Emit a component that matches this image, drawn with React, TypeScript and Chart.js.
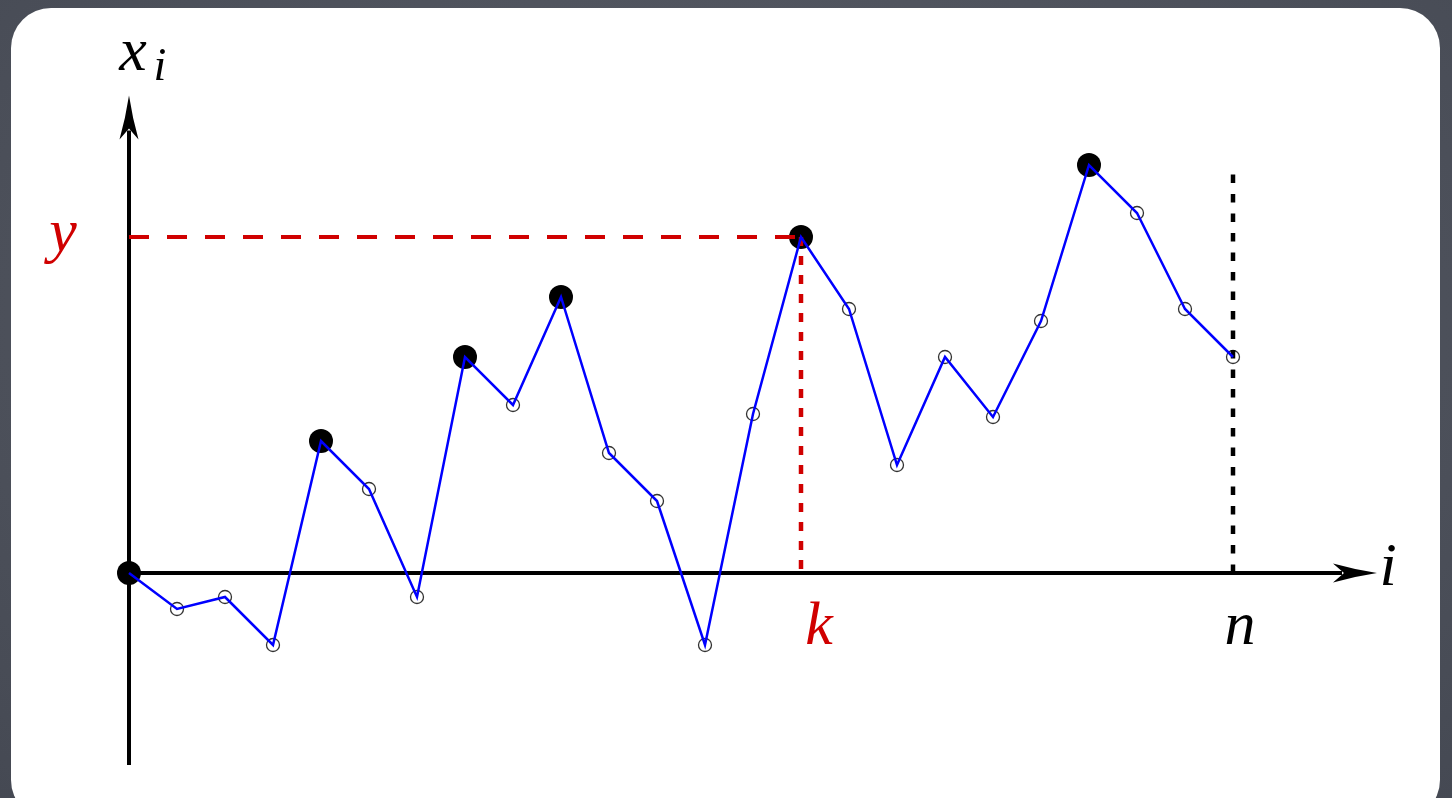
import React, { useEffect, useRef } from "react";
import { Chart, registerables } from "chart.js";

Chart.register(...registerables);

// ---- data ----
const steps = [0, 1, 2, 3, 4, 5, 6, 7, 8, 9, 10, 11, 12, 13, 14, 15, 16, 17, 18, 19, 20, 21, 22, 23];
const walkValues = [0, -3, -2, -6, 11, 7, -2, 18, 14, 23, 10, 6, -6, 13.25, 28, 22, 9, 18, 13, 21, 34, 30, 22, 18];
const kIndex = 14;
const nIndex = 23;
const yLevel = 28;
const nLineTop = 33.2;
const xAxisEnd = 26;
const yAxisBottom = -16;
const yAxisTop = 39.8;
const xRange = [-2.6875, 27.5625];
const yRange = [-18.75, 47.75];

const FONT = "italic 62px 'Liberation Serif', 'DejaVu Serif', serif";
const SUB_FONT = "italic 46px 'Liberation Serif', 'DejaVu Serif', serif";

function stealth(ctx: CanvasRenderingContext2D, tipX: number, tipY: number, dirX: number, dirY: number) {
  const len = 44;
  const half = 9.5;
  const notch = 33;
  const px = -dirY;
  const py = dirX;
  ctx.beginPath();
  ctx.moveTo(tipX, tipY);
  ctx.quadraticCurveTo(
    tipX - dirX * len * 0.5 + px * half * 0.35,
    tipY - dirY * len * 0.5 + py * half * 0.35,
    tipX - dirX * len + px * half,
    tipY - dirY * len + py * half
  );
  ctx.lineTo(tipX - dirX * notch, tipY - dirY * notch);
  ctx.lineTo(tipX - dirX * len - px * half, tipY - dirY * len - py * half);
  ctx.quadraticCurveTo(
    tipX - dirX * len * 0.5 - px * half * 0.35,
    tipY - dirY * len * 0.5 - py * half * 0.35,
    tipX,
    tipY
  );
  ctx.closePath();
  ctx.fillStyle = "#000";
  ctx.fill();
}

const axesPlugin = {
  id: "axesArrows",
  beforeDatasetsDraw(chart: any) {
    const ctx = chart.ctx as CanvasRenderingContext2D;
    const xs = chart.scales.x;
    const ys = chart.scales.y;
    const x0 = xs.getPixelForValue(0);
    const y0 = ys.getPixelForValue(0);
    const xEnd = xs.getPixelForValue(xAxisEnd);
    const yTop = ys.getPixelForValue(yAxisTop);
    const yBot = ys.getPixelForValue(yAxisBottom);
    ctx.save();
    ctx.strokeStyle = "#000";
    ctx.lineWidth = 4;
    ctx.lineCap = "butt";
    ctx.beginPath();
    ctx.moveTo(x0, yBot);
    ctx.lineTo(x0, yTop + 35);
    ctx.stroke();
    ctx.beginPath();
    ctx.moveTo(x0, y0);
    ctx.lineTo(xEnd - 35, y0);
    ctx.stroke();
    stealth(ctx, x0, yTop, 0, -1);
    stealth(ctx, xEnd, y0, 1, 0);
    ctx.restore();
  },
  afterDatasetsDraw(chart: any) {
    const ctx = chart.ctx as CanvasRenderingContext2D;
    const xs = chart.scales.x;
    const ys = chart.scales.y;
    const x0 = xs.getPixelForValue(0);
    const y0 = ys.getPixelForValue(0);
    const yTop = ys.getPixelForValue(yAxisTop);
    const yY = ys.getPixelForValue(yLevel);
    const xk = xs.getPixelForValue(kIndex);
    const xn = xs.getPixelForValue(nIndex);
    const xEnd = xs.getPixelForValue(xAxisEnd);
    ctx.save();
    ctx.textAlign = "center";
    ctx.textBaseline = "alphabetic";
    ctx.font = FONT;
    ctx.fillStyle = "#000";
    ctx.fillText("x", x0 + 4, yTop - 25);
    ctx.font = SUB_FONT;
    ctx.fillText("i", x0 + 31, yTop - 15);
    ctx.font = FONT;
    ctx.fillText("n", xn + 7, y0 + 71);
    ctx.fillText("i", xEnd + 11, y0 + 12);
    ctx.fillStyle = "#d00000";
    ctx.fillText("y", x0 - 66, yY + 14);
    ctx.fillText("k", xk + 18, y0 + 71);
    ctx.restore();
  },
};

export default function App() {
  const ref = useRef<HTMLCanvasElement>(null);

  useEffect(() => {
    const walk = steps.map((s, i) => ({ x: s, y: walkValues[i] }));
    let best = -Infinity;
    const isRecord = walkValues.map((v) => {
      if (v > best) {
        best = v;
        return true;
      }
      return false;
    });

    const chart = new Chart(ref.current as HTMLCanvasElement, {
      type: "scatter",
      data: {
        datasets: [
          {
            data: walk,
            showLine: true,
            borderColor: "#0000ff",
            borderWidth: 2.5,
            pointRadius: 0,
            tension: 0,
          },
          {
            data: [
              { x: 0, y: yLevel },
              { x: kIndex, y: yLevel },
            ],
            showLine: true,
            borderColor: "#d00000",
            borderWidth: 4,
            borderDash: [20, 18],
            pointRadius: 0,
          },
          {
            data: [
              { x: kIndex, y: yLevel },
              { x: kIndex, y: 0 },
            ],
            showLine: true,
            borderColor: "#d00000",
            borderWidth: 4.5,
            borderDash: [9, 10],
            pointRadius: 0,
          },
          {
            data: [
              { x: nIndex, y: nLineTop },
              { x: nIndex, y: 0 },
            ],
            showLine: true,
            borderColor: "#000",
            borderWidth: 4.5,
            borderDash: [8.5, 11],
            pointRadius: 0,
          },
          {
            data: walk,
            showLine: false,
            pointRadius: isRecord.map((r) => (r ? 12 : 6.5)),
            pointBackgroundColor: isRecord.map((r) => (r ? "#000" : "rgba(0,0,0,0)")),
            pointBorderColor: "#333",
            pointBorderWidth: isRecord.map((r) => (r ? 0 : 1.3)),
          },
        ],
      } as any,
      options: {
        animation: false,
        responsive: false,
        maintainAspectRatio: false,
        layout: { padding: 0, autoPadding: false },
        events: [],
        scales: {
          x: { type: "linear", min: xRange[0], max: xRange[1], display: false },
          y: { type: "linear", min: yRange[0], max: yRange[1], display: false },
        },
        plugins: {
          legend: { display: false },
          tooltip: { enabled: false },
        },
      } as any,
      plugins: [axesPlugin],
    });
    return () => chart.destroy();
  }, []);

  return (
    <div
      style={{
        position: "fixed",
        left: 0,
        top: 0,
        width: 1452,
        height: 798,
        overflow: "hidden",
        background: "radial-gradient(ellipse at 50% 40%, #5a5e68 0%, #4c505a 70%, #454953 100%)",
      }}
    >
      <div
        style={{
          position: "absolute",
          left: 11,
          top: 8,
          width: 1429,
          height: 812,
          background: "#fff",
          borderRadius: 40,
        }}
      />
      <canvas
        ref={ref}
        width={1452}
        height={798}
        style={{ position: "absolute", left: 0, top: 0, width: 1452, height: 798 }}
      />
    </div>
  );
}
